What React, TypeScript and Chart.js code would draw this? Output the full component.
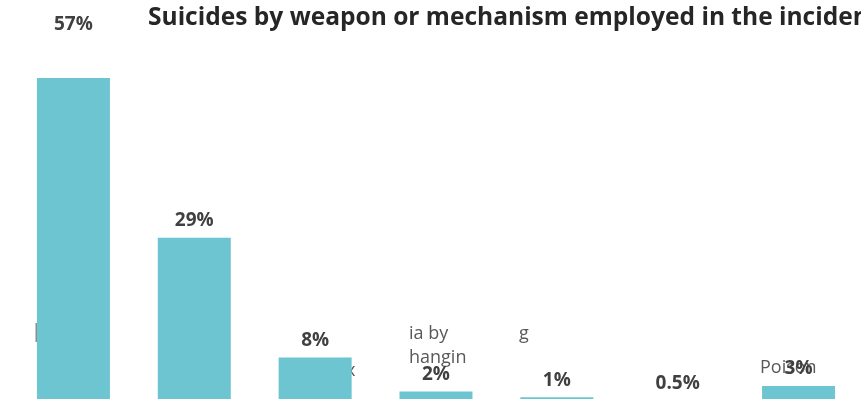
import React, { useEffect, useRef } from "react";
import { Chart, registerables } from "chart.js";

Chart.register(...registerables);

const categories = [
  "Firearm",
  "Asphyxia by hanging",
  "Sharp object",
  "Asphyxia by hanging (other)",
  "Fall",
  "Other",
  "Poison",
];
const percentValues = [57, 29, 8, 2, 1, 0.5, 3];
const valueLabels = ["57%", "29%", "8%", "2%", "1%", "0.5%", "3%"];
const titleText = "Suicides by weapon or mechanism employed in the incident";

const BAR_COLOR = "#6cc5d0";

const strayLabelsPlugin = {
  id: "strayLabels",
  beforeDatasetsDraw(chart: any) {
    const ctx = chart.ctx;
    ctx.save();
    ctx.fillStyle = "#595959";
    ctx.font = '18px "Open Sans"';
    ctx.textAlign = "left";
    ctx.textBaseline = "alphabetic";
    ctx.fillText("x", 346, 376);
    ctx.fillText("ia by", 409, 339);
    ctx.fillText("hangin", 409, 363);
    ctx.fillText("g", 519, 339);
    ctx.fillText("Poison", 760, 373);
    ctx.fillStyle = "#8c8c8c";
    ctx.fillRect(35.5, 323, 2, 19);
    ctx.restore();
  },
};

const valueLabelPlugin = {
  id: "valueLabels",
  afterDatasetsDraw(chart: any) {
    const ctx = chart.ctx;
    const meta = chart.getDatasetMeta(0);
    const top = chart.chartArea.top;
    ctx.save();
    ctx.fillStyle = "#404040";
    ctx.font = 'bold 19px "Open Sans"';
    ctx.textAlign = "center";
    ctx.textBaseline = "middle";
    meta.data.forEach((bar: any, i: number) => {
      let y = bar.y - 17;
      if (y < top + 4) y = top - 36;
      ctx.fillText(valueLabels[i], bar.x, y);
    });
    ctx.restore();
  },
};

const titlePlugin = {
  id: "leftTitle",
  afterDraw(chart: any) {
    const ctx = chart.ctx;
    ctx.save();
    ctx.fillStyle = "#262626";
    ctx.font = 'bold 100px "Open Sans"';
    const w = ctx.measureText("Suicides by weapon or mechanism employed in the incide").width;
    const size = (100 * 705) / w;
    ctx.font = `bold ${size.toFixed(2)}px "Open Sans"`;
    ctx.textAlign = "left";
    ctx.textBaseline = "alphabetic";
    ctx.fillText(titleText, 148, 25);
    ctx.restore();
  },
};

export default function App() {
  const canvasRef = useRef<HTMLCanvasElement | null>(null);

  useEffect(() => {
    if (!canvasRef.current) return;
    const chart = new Chart(canvasRef.current, {
      type: "bar",
      data: {
        labels: categories,
        datasets: [
          {
            data: percentValues,
            backgroundColor: BAR_COLOR,
            borderWidth: 0,
            categoryPercentage: 1,
            barPercentage: 0.604,
          },
        ],
      },
      options: {
        animation: false,
        responsive: false,
        maintainAspectRatio: false,
        layout: { padding: { top: 61, bottom: 57, left: 13, right: 2 } },
        plugins: {
          legend: { display: false },
          title: { display: false },
          tooltip: { enabled: false },
        },
        scales: {
          x: { display: false },
          y: { display: false, min: 0, max: 60 },
        },
      },
      plugins: [strayLabelsPlugin, valueLabelPlugin, titlePlugin],
    });
    return () => chart.destroy();
  }, []);

  return (
    <div
      style={{
        position: "fixed",
        left: 0,
        top: 0,
        width: 861,
        height: 399,
        overflow: "hidden",
        background: "#ffffff",
      }}
    >
      <canvas ref={canvasRef} width={861} height={460} style={{ display: "block" }} />
    </div>
  );
}
